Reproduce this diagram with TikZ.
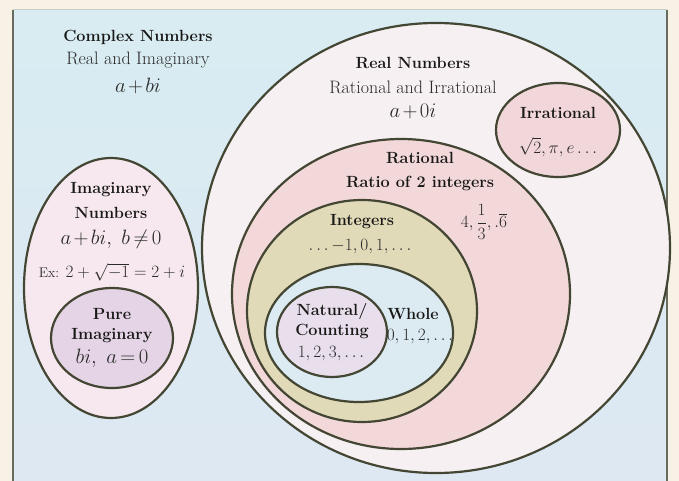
\documentclass[tikz,border=0pt]{standalone}
\usepackage{amsmath}
\usepackage{xcolor}
\usepackage{tikz}
\usetikzlibrary{positioning}
\definecolor{figcream}{RGB}{248,242,230}
\definecolor{figbox}{RGB}{216,236,242}
\definecolor{figboxlow}{RGB}{222,232,242}
\definecolor{figline}{RGB}{68,70,52}
\definecolor{figtext}{RGB}{24,24,22}
\definecolor{figsub}{RGB}{42,42,40}
\definecolor{realfill}{RGB}{246,240,242}
\definecolor{ratfill}{RGB}{243,216,218}
\definecolor{irrfill}{RGB}{241,214,218}
\definecolor{intfill}{RGB}{225,218,184}
\definecolor{wholefill}{RGB}{220,234,242}
\definecolor{natfill}{RGB}{232,222,236}
\definecolor{imagfill}{RGB}{246,232,238}
\definecolor{purefill}{RGB}{228,212,230}
\newcommand{\tightmath}{\medmuskip=2mu\thickmuskip=3mu}
\tikzstyle{setline} = [draw=figline, line width=2.2pt]
\tikzstyle{headtext} = [inner sep=0pt, text=figtext, font=\fontsize{16.2}{19}\selectfont\bfseries]
\tikzstyle{subtext} = [inner sep=0pt, text=figsub, font=\fontsize{18}{21}\selectfont]
\tikzstyle{mathtext} = [inner sep=0pt, text=figsub, font=\fontsize{20}{24}\selectfont\tightmath]

\begin{document}
\begin{tikzpicture}[x=1pt, y=-1pt]
    \useasboundingbox (0,0) rectangle (679,481);
    \fill[figcream] (0,0) rectangle (679,481);
    \shade[top color=figbox, bottom color=figboxlow] (13,10) rectangle (667,481);
    \draw[gray!40, line width=1pt] (13,10) -- (667,10);
    \draw[figline!80, line width=2.5pt] (13,10) -- (13,481);
    \draw[figline!80, line width=2.5pt] (667,10) -- (667,481);

    % set centres
    \coordinate (realc)  at (436,248);
    \coordinate (irrc)   at (558,130);
    \coordinate (ratc)   at (401,294);
    \coordinate (intc)   at (362,311);
    \coordinate (wholec) at (359,333);
    \coordinate (natc)   at (332,332);
    \coordinate (imagc)  at (111,288);
    \coordinate (purec)  at (112,338);

    \draw[setline, fill=realfill]  (realc)  ellipse [x radius=234pt, y radius=225pt];
    \draw[setline, fill=irrfill]   (irrc)   ellipse [x radius=62pt, y radius=47pt];
    \draw[setline, fill=ratfill]   (ratc)   ellipse [x radius=169pt, y radius=155pt];
    \draw[setline, fill=intfill]   (intc)   ellipse [x radius=115pt, y radius=111pt];
    \draw[setline, fill=wholefill] (wholec) ellipse [x radius=94pt, y radius=69pt];
    \draw[setline, fill=natfill]   (natc)   ellipse [x radius=55pt, y radius=45pt];
    \draw[setline, fill=imagfill]  (imagc)  ellipse [x radius=87pt, y radius=130pt];
    \draw[setline, fill=purefill]  (purec)  ellipse [x radius=61pt, y radius=50pt];

    % labels
    \node (cplx)   [headtext] at (138,37)  {Complex Numbers};
    \node (cplxs)  [subtext]  at (138,60)  {Real and Imaginary};
    \node (cplxf)  [mathtext] at (138,86)  {$a+bi$};

    \node (real)   [headtext] at (413,63)  {Real Numbers};
    \node (reals)  [subtext]  at (413,87)  {Rational and Irrational};
    \node (realf)  [mathtext] at (413,111) {$a+0i$};

    \node (irr)    [headtext] at (558,113) {Irrational};
    \node (irrf)   [mathtext, font=\fontsize{19}{22}\selectfont\tightmath] at (558,147) {$\sqrt{2},\pi,e\ldots$};

    \node (rat)    [headtext] at (420,158) {Rational};
    \node (rats)   [headtext] at (420,183) {Ratio of 2 integers};
    \node (ratf)   [mathtext, font=\fontsize{17}{20}\selectfont] at (484,222) {$4,\dfrac{1}{3},.\overline{6}$};

    \node (int)    [headtext] at (362,222) {Integers};
    \node (intf)   [mathtext, font=\fontsize{18}{21}\selectfont\tightmath] at (360,247) {$\ldots{-1},0,1,\ldots$};

    \node (nat)    [headtext] at (332,311) {Natural/};
    \node (nats)   [headtext] at (332,331) {Counting};
    \node (natf)   [mathtext, font=\fontsize{19}{22}\selectfont] at (331,354) {$1,2,3,\ldots$};

    \node (whole)  [headtext] at (413,314) {Whole};
    \node (wholef) [mathtext, font=\fontsize{17}{20}\selectfont] at (420,337) {$0,1,2,\ldots$};

    \node (imag)   [headtext] at (111,190) {Imaginary};
    \node (imags)  [headtext] at (111,213) {Numbers};
    \node (imagf)  [mathtext] at (111,239) {$a+bi,\ b\neq 0$};
    \node (imagx)  [mathtext, font=\fontsize{16}{19}\selectfont] at (112,272)
    {{\fontsize{14}{16}\selectfont Ex:} $2+\sqrt{-1}=2+i$};

    \node (pure)   [headtext] at (112,314) {Pure};
    \node (pures)  [headtext] at (112,336) {Imaginary};
    \node (puref)  [mathtext] at (112,358) {$bi,\ a=0$};
\end{tikzpicture}
\end{document}
